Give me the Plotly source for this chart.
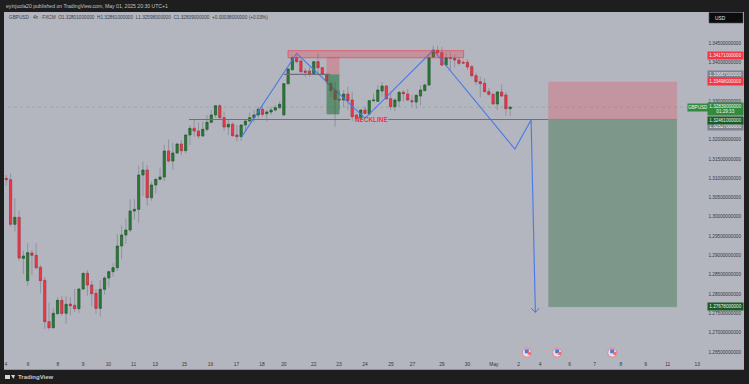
import plotly.graph_objects as go

opens = [1.30996,1.30961,1.29805,1.29986,1.28924,1.28346,1.29063,1.29002,1.28691,1.28355,1.27285,1.27129,1.27492,1.27837,1.275,1.27742,1.27708,1.27621,1.2813,1.28536,
1.28234,1.28018,1.2763,1.28122,1.28415,1.28579,1.28683,1.29244,1.29529,1.29658,1.3015,1.30193,1.31082,1.31211,1.30495,1.30823,1.3097,1.3103,1.31703,1.31444,
1.31652,1.31885,1.31712,1.32118,1.32291,1.32222,1.32092,1.32265,1.32446,1.32636,1.32877,1.32567,1.32325,1.32394,1.32118,1.32075,1.32377,1.3248,1.32567,1.32636,
1.32783,1.3267,1.32713,1.32765,1.32826,1.32636,1.33447,1.3381,1.3412,1.34034,1.33775,1.33775,1.33689,1.34017,1.33861,1.33689,1.33447,1.33274,1.33041,1.33024,
1.33179,1.33024,1.32636,1.32549,1.32765,1.32662,1.33007,1.3299,1.33257,1.33387,1.33059,1.32852,1.32998,1.33223,1.33179,1.33007,1.32972,1.33128,1.33266,1.33412,
1.34137,1.3431,1.3425,1.3393,1.3412,1.34103,1.3406,1.33999,1.33999,1.33887,1.33654,1.33499,1.33456,1.3324,1.33171,1.32921,1.33231,1.33154,1.32801]
highs = [1.31082,1.31125,1.30478,1.30159,1.29123,1.29313,1.2914,1.29313,1.28752,1.2845,1.27777,1.27647,1.27915,1.27949,1.2794,1.27923,1.2813,1.28145,1.2855,1.28622,
1.28346,1.2813,1.28363,1.28467,1.28605,1.28795,1.29554,1.2977,1.29951,1.30452,1.30461,1.31324,1.31427,1.31341,1.30909,1.30996,1.3128,1.31867,1.32005,1.31919,
1.31919,1.31988,1.32143,1.32377,1.32506,1.32446,1.32463,1.32636,1.32765,1.32895,1.32912,1.32722,1.32506,1.32446,1.32377,1.32394,1.3249,1.32705,1.32765,1.32852,
1.32852,1.32765,1.32852,1.32895,1.32981,1.33447,1.33844,1.34172,1.34189,1.34086,1.33844,1.33887,1.34034,1.34232,1.33887,1.33715,1.33516,1.33499,1.33283,1.33283,
1.33369,1.3324,1.3266,1.32791,1.32852,1.33024,1.33197,1.33412,1.33482,1.33412,1.3324,1.33067,1.33257,1.33283,1.33309,1.33154,1.33171,1.33412,1.33456,1.34189,
1.34431,1.34431,1.34405,1.34258,1.34258,1.34215,1.3412,1.3406,1.34086,1.3393,1.33732,1.33628,1.33585,1.33343,1.33197,1.33257,1.3343,1.33223,1.32861]
lows = [1.30806,1.29744,1.29615,1.28864,1.28519,1.28217,1.28493,1.2864,1.28018,1.27095,1.27069,1.27095,1.2747,1.2744,1.27233,1.2744,1.27535,1.2751,1.28105,1.27958,
1.2769,1.27483,1.27414,1.27992,1.28174,1.2845,1.28597,1.28907,1.29296,1.29606,1.29934,1.29839,1.30547,1.30288,1.30417,1.30607,1.3095,1.30927,1.3141,1.3122,
1.31626,1.316,1.31643,1.31859,1.32075,1.32032,1.32075,1.32204,1.3242,1.32567,1.32506,1.32222,1.32118,1.32075,1.31945,1.31963,1.32204,1.32446,1.32446,1.32549,
1.32593,1.3248,1.32636,1.32722,1.32791,1.3262,1.3343,1.33775,1.33973,1.33715,1.33628,1.33628,1.33672,1.33689,1.33654,1.3343,1.3311,1.32334,1.32765,1.32826,
1.32765,1.3248,1.32463,1.3248,1.32636,1.32636,1.32981,1.32981,1.3311,1.33024,1.32765,1.32739,1.32852,1.32981,1.33007,1.32852,1.32791,1.32877,1.33257,1.33395,
1.34103,1.34189,1.33913,1.33913,1.33801,1.3387,1.3393,1.33973,1.33801,1.33628,1.33412,1.33093,1.33223,1.33136,1.32912,1.32765,1.3311,1.3261,1.32598]
closes = [1.30961,1.29805,1.29986,1.28933,1.28985,1.29071,1.29002,1.28683,1.28346,1.27285,1.27129,1.275,1.27837,1.275,1.27734,1.27699,1.27621,1.2813,1.28536,1.28234,
1.2801,1.2763,1.28122,1.28415,1.28579,1.28683,1.29244,1.29529,1.29658,1.3015,1.30193,1.31082,1.31211,1.30495,1.30823,1.3097,1.3103,1.31703,1.31444,1.31652,
1.31885,1.31712,1.32118,1.32291,1.32222,1.32092,1.32265,1.32446,1.32636,1.32877,1.32567,1.32325,1.32394,1.32101,1.32075,1.32377,1.3248,1.32567,1.32636,1.32783,
1.32653,1.32713,1.32765,1.32826,1.32912,1.33447,1.33827,1.3412,1.34017,1.33758,1.3374,1.33689,1.34017,1.33861,1.33689,1.33516,1.33274,1.33041,1.33025,1.33179,
1.33007,1.32593,1.32549,1.32765,1.32679,1.33007,1.33024,1.33283,1.33387,1.33059,1.32852,1.33024,1.33223,1.33188,1.33024,1.32981,1.33145,1.33283,1.33412,1.3412,
1.34319,1.3425,1.3393,1.3412,1.34103,1.3406,1.33973,1.33982,1.33879,1.33654,1.33499,1.33447,1.3324,1.33171,1.32921,1.33231,1.33128,1.328,1.32839]

day_ticks = [-0.1,5.1,12.1,18,23.9,29.8,34.9,41.7,47.8,53.9,59.9,65,72,77.9,84,90.1,95.1,102,108,114.2,120,125,131.9,137.8,143.9,149.7,154.9,161.8]
day_labels = ["4","6","8","9","10","11","13","15","16","17","18","20","22","23","24","25","27","29","30","May","2","4","6","7","8","9","11","13"]

price_ticks = [1.345,1.34,1.33,1.32,1.315,1.31,1.305,1.30,1.295,1.29,1.285,1.28,1.275,1.27,1.265]

swing_x = [55.1,68,84,100,119.1,122.9,123.9]
swing_y = [1.3207,1.34233,1.3255,1.34319,1.31755,1.32506,1.27525]
arrow_x = [122.9,123.9,124.8]
arrow_y = [1.27637,1.27525,1.27637]

event_x = [121.9,129,141.9]
event_y = [1.26482,1.26482,1.26482]

BG = "#b3b5bf"; DARK = "#1e1e1e"; GREEN = "#2b7a35"; DGREEN = "#1c5e28"; RED = "#f23645"; WICK = "#888a97"; BLUE = "#4a78e8"
FONT = "Liberation Sans"

n = len(opens)
xs = list(range(n))

fig = go.Figure()

# wicks
fig.add_trace(go.Candlestick(x=xs, open=opens, high=highs, low=lows, close=closes, whiskerwidth=0,
    increasing=dict(line=dict(color=WICK, width=0.8), fillcolor=WICK),
    decreasing=dict(line=dict(color=WICK, width=0.8), fillcolor=WICK), hoverinfo="skip"))
# bodies
body_hi = [max(o, c) for o, c in zip(opens, closes)]
body_lo = [min(o, c) for o, c in zip(opens, closes)]
fig.add_trace(go.Candlestick(x=xs, open=opens, high=body_hi, low=body_lo, close=closes, whiskerwidth=0,
    increasing=dict(line=dict(color="#1f5f2a", width=0.6), fillcolor=GREEN),
    decreasing=dict(line=dict(color="#b8303f", width=0.6), fillcolor=RED), hoverinfo="skip"))

fig.add_trace(go.Scatter(x=swing_x, y=swing_y, mode="lines", line=dict(color=BLUE, width=1.1), hoverinfo="skip"))
fig.add_trace(go.Scatter(x=arrow_x, y=arrow_y, mode="lines", line=dict(color=BLUE, width=1), hoverinfo="skip"))

# flag event markers
fig.add_trace(go.Scatter(x=event_x, y=event_y, mode="markers", hoverinfo="skip",
    marker=dict(size=9, color="#e9dfe4", line=dict(color="#e8848e", width=1))))
fig.add_trace(go.Scatter(x=event_x, y=[v + 0.00035 for v in event_y], mode="markers", hoverinfo="skip",
    marker=dict(size=4, color="#3f7fe0", symbol="square")))
fig.add_trace(go.Scatter(x=[v + 0.6 for v in event_x], y=[v - 0.0002 for v in event_y], mode="markers", hoverinfo="skip",
    marker=dict(size=3, color="#e8707c", symbol="square")))

def rect(x0, x1, y0, y1, fill, line, w=0.8):
    fig.add_shape(type="rect", xref="x", yref="y", x0=x0, x1=x1, y0=y0, y1=y1,
                  fillcolor=fill, line=dict(color=line, width=w), layer="above")

def hline(x0, x1, y, color, w=1, dash="solid"):
    fig.add_shape(type="line", xref="x", yref="y", x0=x0, x1=x1, y0=y, y1=y,
                  line=dict(color=color, width=w, dash=dash), layer="above")

hline(-1, 159.5, 1.32839, "rgba(43,122,53,0.3)", 0.6, "dot")
rect(65.97, 107.1, 1.34119, 1.34301, "rgba(242,54,69,0.28)", "rgba(242,54,69,0.75)")
rect(75, 78, 1.33689, 1.34145, "rgba(242,54,69,0.28)", "rgba(0,0,0,0)", 0)
rect(75, 78, 1.32653, 1.33689, "rgba(27,110,50,0.55)", "rgba(0,0,0,0)", 0)
rect(127, 157, 1.32524, 1.3349, "rgba(242,54,69,0.25)", "rgba(242,54,69,0.15)", 0.5)
rect(127, 157, 1.2767, 1.32524, "rgba(60,115,75,0.45)", "rgba(60,115,75,0.3)", 0.5)
hline(42.8, 80.5, 1.3252, "#6d6f7c", 1.1)
hline(89.4, 126.9, 1.3252, "#6d6f7c", 1.1)
hline(65, 75.8, 1.33689, "#6d6f7c", 1.1)

# frame pieces
fig.add_shape(type="rect", xref="paper", yref="paper", x0=709/749, x1=743/749, y0=1-23/384, y1=1-12.5/384,
              fillcolor="#0c0c0e", line=dict(color="#55565c", width=0.6), layer="above")
# logo
fig.add_shape(type="rect", xref="paper", yref="paper", x0=5/749, x1=10/749, y0=1-379/384, y1=1-375/384,
              fillcolor="#d4d4d4", line=dict(width=0), layer="above")
fig.add_shape(type="path", xref="paper", yref="paper",
              path=f"M {11/749} {1-375/384} L {13.5/749} {1-379/384} L {15/749} {1-375/384} Z",
              fillcolor="#d4d4d4", line=dict(width=0), layer="above")

def text(x, y, s, size=4.9, color="#c9c9c9", anchor="left", bold=False):
    fig.add_annotation(xref="paper", yref="paper", x=x/749, y=1-y/384, text=f"<b>{s}</b>" if bold else s,
                       showarrow=False, xanchor=anchor, yanchor="middle",
                       font=dict(family=FONT, size=size, color=color))

text(4, 6, "eyinjuola20 published on TradingView.com, May 01, 2025 20:30 UTC+1", 5.1, "#c4c4c4")
text(7, 17.3, "GBPUSD · 4h · FXCM  O1.32801000000  H1.32861000000  L1.32598000000  C1.32839000000  +0.00038000000 (+0.03%)", 4.7, "#3a3d46")
text(16, 377.3, "TradingView", 6, "#c8c8c8", bold=True)
text(713, 18, "USD", 4.8, "#e6e6e6")
text(353, 119.2, "NECKLINE", 6.4, "#f23645", bold=True)

def badge(price, s, fill, h=7):
    fig.add_annotation(xref="paper", yref="y", x=725.2/749, y=price, text=s, showarrow=False,
                       xanchor="center", yanchor="middle", width=35, height=h, bgcolor=fill, borderpad=0,
                       font=dict(family=FONT, size=4.6, color="#f4f4f4"))

badge(1.34171, "1.34171000000", RED)
badge(1.33687, "1.33687000000", "#7f818e")
badge(1.33498, "1.33498000000", RED)
badge(1.32527 - 0.00185, "1.32527000000", "#7f818e")
badge(1.32839 - 0.0005, "1.32839000000<br>01:29:33", "#33893d", 12)
badge(1.32461 + 0.00025, "1.32461000000", "#1a5a25", 6.5)
badge(1.27678, "1.27678000000", "#1a5a25")
fig.add_annotation(xref="paper", yref="y", x=697.5/749, y=1.32839, text="GBPUSD", showarrow=False, xanchor="center",
                   yanchor="middle", width=20, height=7, bgcolor="#33893d", borderpad=0,
                   font=dict(family=FONT, size=4.6, color="#f4f4f4"))

fig.update_layout(
    width=749, height=384, margin=dict(l=0, r=0, t=0, b=0, pad=0), autosize=False,
    paper_bgcolor=DARK, plot_bgcolor=BG, showlegend=False, boxgap=0.5, boxgroupgap=0,
    font=dict(family=FONT, size=4.7, color="#33353c"),
    xaxis=dict(domain=[4/749, 744/749], range=[-0.54, 172.76], rangeslider=dict(visible=False),
               tickmode="array", tickvals=day_ticks, ticktext=day_labels, ticks="", showgrid=False, zeroline=False,
               ticklabelposition="inside", showline=True, linecolor="#8f919b", linewidth=1, anchor="y",
               tickfont=dict(size=4.9, color="#33353c"), tickangle=0),
    yaxis=dict(domain=[1-369/384, 1-12/384], range=[1.26059, 1.35303], side="right", anchor="x",
               tickmode="array", tickvals=price_ticks, ticktext=[f"{v:.11f}" for v in price_ticks],
               ticks="", showgrid=False, zeroline=False, ticklabelposition="inside",
               tickfont=dict(size=4.7, color="#33353c")),
)

fig.write_html("out.html", config=dict(displayModeBar=False),
               post_script="document.documentElement.style.background='#1e1e1e';document.body.style.margin='0';document.body.style.overflow='hidden';")
